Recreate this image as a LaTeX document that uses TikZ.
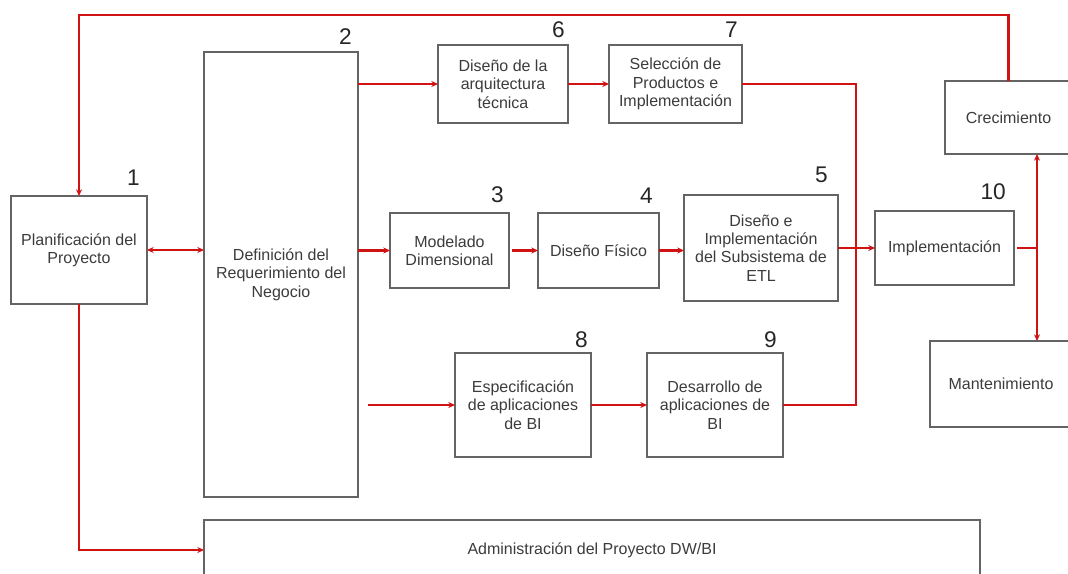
\documentclass[tikz,border=0pt]{standalone}
\usepackage{fontspec}
\setmainfont{Liberation Sans}
\usetikzlibrary{arrows.meta}

\definecolor{flowred}{RGB}{208,18,18}
\definecolor{boxgray}{RGB}{100,100,100}
\definecolor{txtgray}{RGB}{60,60,60}

\tikzset{
  stage/.style={draw=boxgray, line width=1.2pt, fill=white, align=center,
    inner sep=2pt, outer sep=0pt, text=txtgray,
    font=\fontsize{12}{13.8}\selectfont},
  stagenum/.style={anchor=base east, inner sep=0pt, text=black!85,
    font=\fontsize{17}{17}\selectfont},
  flow/.style={draw=flowred, line width=1.7pt},
  tip/.style={-{Stealth[length=5pt,width=4.5pt]}},
  bitip/.style={{Stealth[length=5pt,width=4.5pt]}-{Stealth[length=5pt,width=4.5pt]}},
}

% box from (x1,y1) to (x2,y2), coordinates in pixels, y growing downwards
\newcommand\stagebox[6]{%
  \node[stage, minimum width={(#4-#2)*0.75pt}, minimum height={(#5-#3)*0.75pt}]
    (#1) at ({(#2+#4)/2},{(#3+#5)/2}) {#6};}

\begin{document}
\begin{tikzpicture}[x=0.75pt, y=-0.75pt]
  \useasboundingbox (0,0) rectangle (1068,574);
  \clip (0,0) rectangle (1068,574);

  % stages
  \stagebox{plan}{11}{196}{147}{304}{Planificación del\\Proyecto}
  \stagebox{def}{204}{52}{358}{497}{Definición del\\Requerimiento del\\Negocio}
  \stagebox{arq}{438}{45}{568}{123}{Diseño de la\\arquitectura\\técnica}
  \stagebox{sel}{609}{45}{742}{123}{Selección de\\Productos e\\Implementación}
  \stagebox{mod}{390}{213}{509}{288}{Modelado\\Dimensional}
  \stagebox{fis}{538}{213}{659}{288}{Diseño Físico}
  \stagebox{etl}{684}{195}{838}{301}{Diseño e\\Implementación\\del Subsistema de\\ETL}
  \stagebox{impl}{875}{211}{1014}{285}{Implementación}
  \stagebox{esp}{455}{353}{591}{457}{Especificación\\de aplicaciones\\de BI}
  \stagebox{des}{647}{353}{783}{457}{Desarrollo de\\aplicaciones de\\BI}
  \stagebox{cre}{945}{81}{1072}{154}{Crecimiento}
  \stagebox{man}{930}{341}{1072}{427}{Mantenimiento}
  \stagebox{adm}{204}{520}{980}{580}{Administración del Proyecto DW/BI}

  % stage numbers
  \node[stagenum] (n1) at (140,186) {1};
  \node[stagenum] (n2) at (352,45) {2};
  \node[stagenum] (n3) at (504,203) {3};
  \node[stagenum] (n4) at (653,204) {4};
  \node[stagenum] (n5) at (828,183) {5};
  \node[stagenum] (n6) at (565,38) {6};
  \node[stagenum] (n7) at (738,38) {7};
  \node[stagenum] (n8) at (588,347) {8};
  \node[stagenum] (n9) at (777,347) {9};
  \node[stagenum] (n10) at (1006,200) {10};

  % helper points
  \coordinate (topy) at (0,15);
  \coordinate (bus) at (856,0);
  \coordinate (jn) at (1037,248);
  \coordinate (specin) at (368,405);

  % feedback loop from growth back to planning
  \draw[flow,tip] (cre.north) -- (cre.north |- topy)
    -- (plan.north |- topy) -- (plan.north);

  % planning and requirements
  \draw[flow,bitip] (plan.east) -- (plan.east -| def.west);

  % technology track
  \draw[flow,tip] (arq.west -| def.east) -- (arq.west);
  \draw[flow,tip] (arq.east) -- (sel.west);

  % data track
  \draw[flow,tip] (mod.west -| def.east) -- (mod.west);
  \draw[flow,tip,shorten <=2.5pt] (mod.east) -- (fis.west);
  \draw[flow,tip] (fis.east) -- (fis.east -| etl.west);

  % application track
  \draw[flow,tip] (specin) -- (esp.west);
  \draw[flow,tip] (esp.east) -- (des.west);

  % tracks joining before deployment
  \draw[flow] (sel.east) -| (bus |- des.east) -- (des.east);
  \draw[flow,tip] (etl.east) -- (etl.east -| impl.west);

  % deployment to growth and maintenance
  \draw[flow,shorten <=2.5pt] (impl.east) -- (jn);
  \draw[flow,tip] (jn) -- (jn |- cre.south);
  \draw[flow,tip] (jn) -- (jn |- man.north);

  % planning to project management
  \draw[flow,tip] (plan.south) |- (adm.west);
\end{tikzpicture}
\end{document}
